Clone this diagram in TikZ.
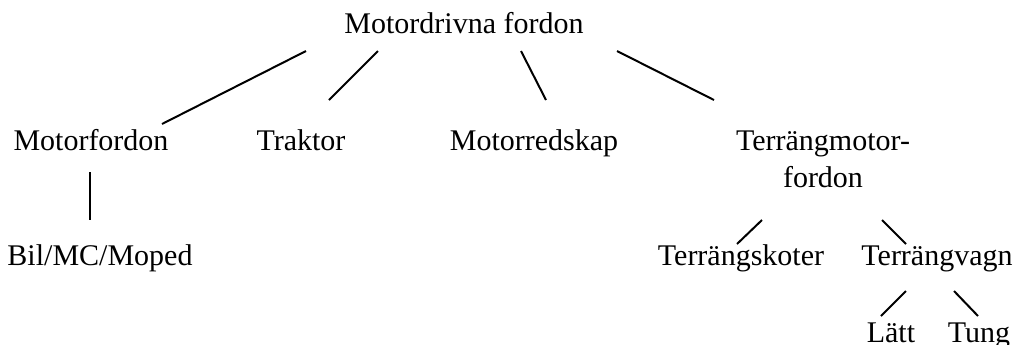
\documentclass[tikz,border=0pt]{standalone}
\usepackage{fontspec}
\setmainfont{Liberation Serif}
\begin{document}
\begin{tikzpicture}[
    x=0.5pt, y=-0.5pt,
    item/.style={inner sep=0pt, anchor=base, font=\fontsize{15}{18.5}\selectfont},
    link/.style={line width=1pt}
]
\useasboundingbox (0,0) rectangle (1014,344);

% Top
\node[item] (root) at (464,33) {Motordrivna fordon};

% Level 1
\node[item] (mf) at (91,150) {Motorfordon};
\node[item] (trak) at (301,150) {Traktor};
\node[item] (mrs) at (534,150) {Motorredskap};
\node[item, align=center] (tmf) at (823,187) {Terrängmotor-\\fordon};

% Level 2
\node[item] (bmm) at (100,265) {Bil/MC/Moped};
\node[item] (tsk) at (741,265) {Terrängskoter};
\node[item] (tvg) at (937,265) {Terrängvagn};

% Level 3
\node[item] (latt) at (891,342) {Lätt};
\node[item] (tung) at (979,342) {Tung};

% Lines
\draw[link] ([shift={(-158,18)}]root.base) -- ([shift={(71,-26)}]mf.base);
\draw[link] ([shift={(-86,18)}]root.base) -- ([shift={(28,-50)}]trak.base);
\draw[link] ([shift={(57,18)}]root.base) -- ([shift={(12,-50)}]mrs.base);
\draw[link] ([shift={(153,18)}]root.base) -- ([shift={(-109,-87)}]tmf.base);
\draw[link] ([shift={(-1,22)}]mf.base) -- ([shift={(-10,-45)}]bmm.base);
\draw[link] ([shift={(-61,33)}]tmf.base) -- ([shift={(-4,-21)}]tsk.base);
\draw[link] ([shift={(59,33)}]tmf.base) -- ([shift={(-31,-21)}]tvg.base);
\draw[link] ([shift={(-31,26)}]tvg.base) -- ([shift={(-10,-26)}]latt.base);
\draw[link] ([shift={(17,26)}]tvg.base) -- ([shift={(-1,-26)}]tung.base);

\end{tikzpicture}
\end{document}
